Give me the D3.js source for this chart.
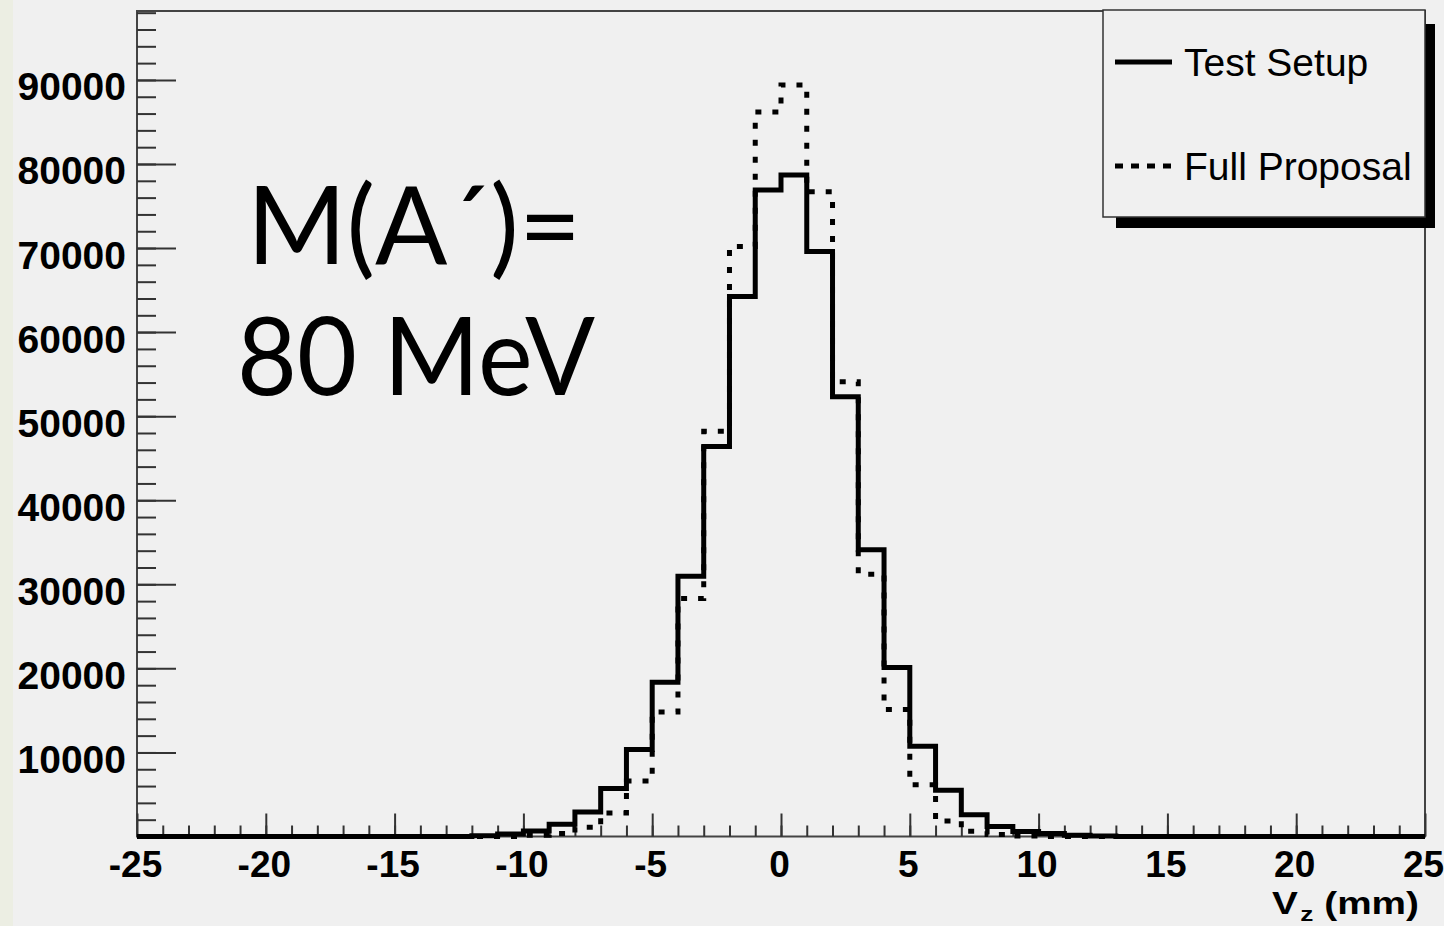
<!DOCTYPE html>
<html><head><meta charset="utf-8">
<script src="https://cdn.jsdelivr.net/npm/d3@7"></script>
<style>html,body{margin:0;padding:0;background:#f0f0f0;} svg{display:block}</style>
</head><body><svg id="c" width="1444" height="926"></svg>
<script>
// ---- data ----
const binLow = [-25,-24,-23,-22,-21,-20,-19,-18,-17,-16,-15,-14,-13,-12,-11,-10,-9,-8,-7,-6,-5,-4,-3,-2,-1,
                0,1,2,3,4,5,6,7,8,9,10,11,12,13,14,15,16,17,18,19,20,21,22,23,24];
const binHigh = 25;
const testSetup = [0,0,0,0,0,0,0,0,0,0,0,0,0,
                   100,300,650,1450,2900,5700,10350,18350,30950,46400,64250,76900,
                   78700,69600,52300,34100,20100,10750,5500,2600,1200,600,350,150,60,
                   0,0,0,0,0,0,0,0,0,0,0,0];
const fullProposal = [0,0,0,0,0,0,0,0,0,0,0,0,0,0,0,
                      150,350,1100,2800,6600,14800,28300,48200,70200,86200,
                      89400,76700,54100,31200,15100,6150,1850,620,230,60,
                      0,0,0,0,0,0,0,0,0,0,0,0,0,0,0];
const yTickValues = [10000,20000,30000,40000,50000,60000,70000,80000,90000];
const yTickLabels = ["10000","20000","30000","40000","50000","60000","70000","80000","90000"];
const xTickValues = [-25,-20,-15,-10,-5,0,5,10,15,20,25];
const xTickLabels = ["-25","-20","-15","-10","-5","0","5","10","15","20","25"];
const legendLabels = ["Test Setup","Full Proposal"];
const annotationLines = ["M(A\u00B4)=","80 MeV"];
const axisTitle = {main:"V", sub:"z", unit:" (mm)"};

// ---- layout ----
const W = 1444, H = 926;
const m = {left:137, right:1425, top:11, bottom:836.5};
const svg = d3.select("#c");
const x = d3.scaleLinear().domain([-25,25]).range([m.left,m.right]);
const y = d3.scaleLinear().domain([0,98200]).range([m.bottom,m.top]);
const AX = "'Liberation Sans', Arial, Helvetica, sans-serif";

svg.append("rect").attr("width",W).attr("height",H).attr("fill","#f0f0f0");
svg.append("rect").attr("width",13).attr("height",H).attr("fill","#eceee3");

// frame
svg.append("rect").attr("x",m.left).attr("y",m.top)
  .attr("width",m.right-m.left).attr("height",m.bottom-m.top)
  .attr("fill","none").attr("stroke","#444").attr("stroke-width",2);

// y axis minor ticks
const yMinor = d3.range(2000, 98001, 2000);
svg.append("g").attr("transform",`translate(${m.left},0)`)
  .call(d3.axisLeft(y).tickValues(yMinor).tickSize(-19).tickFormat(""))
  .call(g=>g.select(".domain").remove())
  .call(g=>g.selectAll("line").attr("stroke","#333").attr("stroke-width",2));
// y axis major ticks + labels
svg.append("g").attr("transform",`translate(${m.left},0)`)
  .call(d3.axisLeft(y).tickValues(yTickValues).tickSize(-39).tickPadding(11)
        .tickFormat((d,i)=>yTickLabels[i]))
  .call(g=>g.select(".domain").remove())
  .call(g=>g.selectAll("line").attr("stroke","#333").attr("stroke-width",2))
  .call(g=>g.selectAll("text").attr("dy",20).attr("fill","#000")
        .style("font-family",AX).style("font-weight","bold").style("font-size","39px"));

// x axis minor ticks
const xMinor = d3.range(-24, 25, 1);
svg.append("g").attr("transform",`translate(0,${m.bottom})`)
  .call(d3.axisBottom(x).tickValues(xMinor).tickSize(-11).tickFormat(""))
  .call(g=>g.select(".domain").remove())
  .call(g=>g.selectAll("line").attr("stroke","#333").attr("stroke-width",2));
// x axis major
svg.append("g").attr("transform",`translate(0,${m.bottom})`)
  .call(d3.axisBottom(x).tickValues(xTickValues).tickSize(-23).tickPadding(40)
        .tickFormat((d,i)=>xTickLabels[i]))
  .call(g=>g.select(".domain").remove())
  .call(g=>g.selectAll("line").attr("stroke","#333").attr("stroke-width",2))
  .call(g=>g.selectAll("text").attr("dy",0).attr("dx",-2).attr("fill","#000")
        .style("font-family",AX).style("font-weight","bold").style("font-size","37px"));

// axis title (wide, short glyphs as in the reference)
const t = svg.append("text").attr("transform","translate(1272,914) scale(1.25,1)")
  .style("font-family",AX).style("font-weight","bold").style("font-size","31px").attr("fill","#000");
t.append("tspan").text(axisTitle.main);
t.append("tspan").attr("dy",7).attr("dx",2).style("font-size","21px").text(axisTitle.sub);
t.append("tspan").attr("dy",-7).text(axisTitle.unit);

// histograms
const line = d3.line().x(d=>x(d.x)).y(d=>y(d.v)).curve(d3.curveStepAfter);
function pts(vals){
  const p = binLow.map((b,i)=>({x:b, v:vals[i]}));
  p.push({x:binHigh, v:vals[vals.length-1]});
  return p;
}
svg.append("path").datum(pts(fullProposal)).attr("d",line)
  .attr("fill","none").attr("stroke","#000").attr("stroke-width",5)
  .attr("stroke-dasharray","6,11");
svg.append("path").datum(pts(testSetup)).attr("d",line)
  .attr("fill","none").attr("stroke","#000").attr("stroke-width",5);

// annotation
const AN = "Lato, 'Open Sans', sans-serif";
svg.append("text").attr("x",247).attr("y",264).style("font-family",AN)
  .attr("textLength",334).attr("lengthAdjust","spacingAndGlyphs")
  .style("font-size","108px").attr("fill","#000").text(annotationLines[0]);
svg.append("text").attr("x",237).attr("y",395).style("font-family",AN)
  .attr("textLength",358).attr("lengthAdjust","spacingAndGlyphs")
  .style("font-size","108px").attr("fill","#000").text(annotationLines[1]);

// legend
const lg = svg.append("g");
lg.append("rect").attr("x",1116).attr("y",24).attr("width",319).attr("height",204).attr("fill","#000");
lg.append("rect").attr("x",1103).attr("y",10).attr("width",322).attr("height",207)
  .attr("fill","#f0f0f0").attr("stroke","#333").attr("stroke-width",1.5);
const legY = [62,166], legText = [76,180];
legendLabels.forEach((lab,i)=>{
  lg.append("line").attr("x1",1115).attr("x2",1172).attr("y1",legY[i]).attr("y2",legY[i])
    .attr("stroke","#000").attr("stroke-width",5)
    .attr("stroke-dasharray", i===1 ? "8,8" : null);
  lg.append("text").attr("x",1184).attr("y",legText[i]).style("font-family",AX)
    .style("font-size","39px").attr("fill","#000").text(lab);
});
</script></body></html>
